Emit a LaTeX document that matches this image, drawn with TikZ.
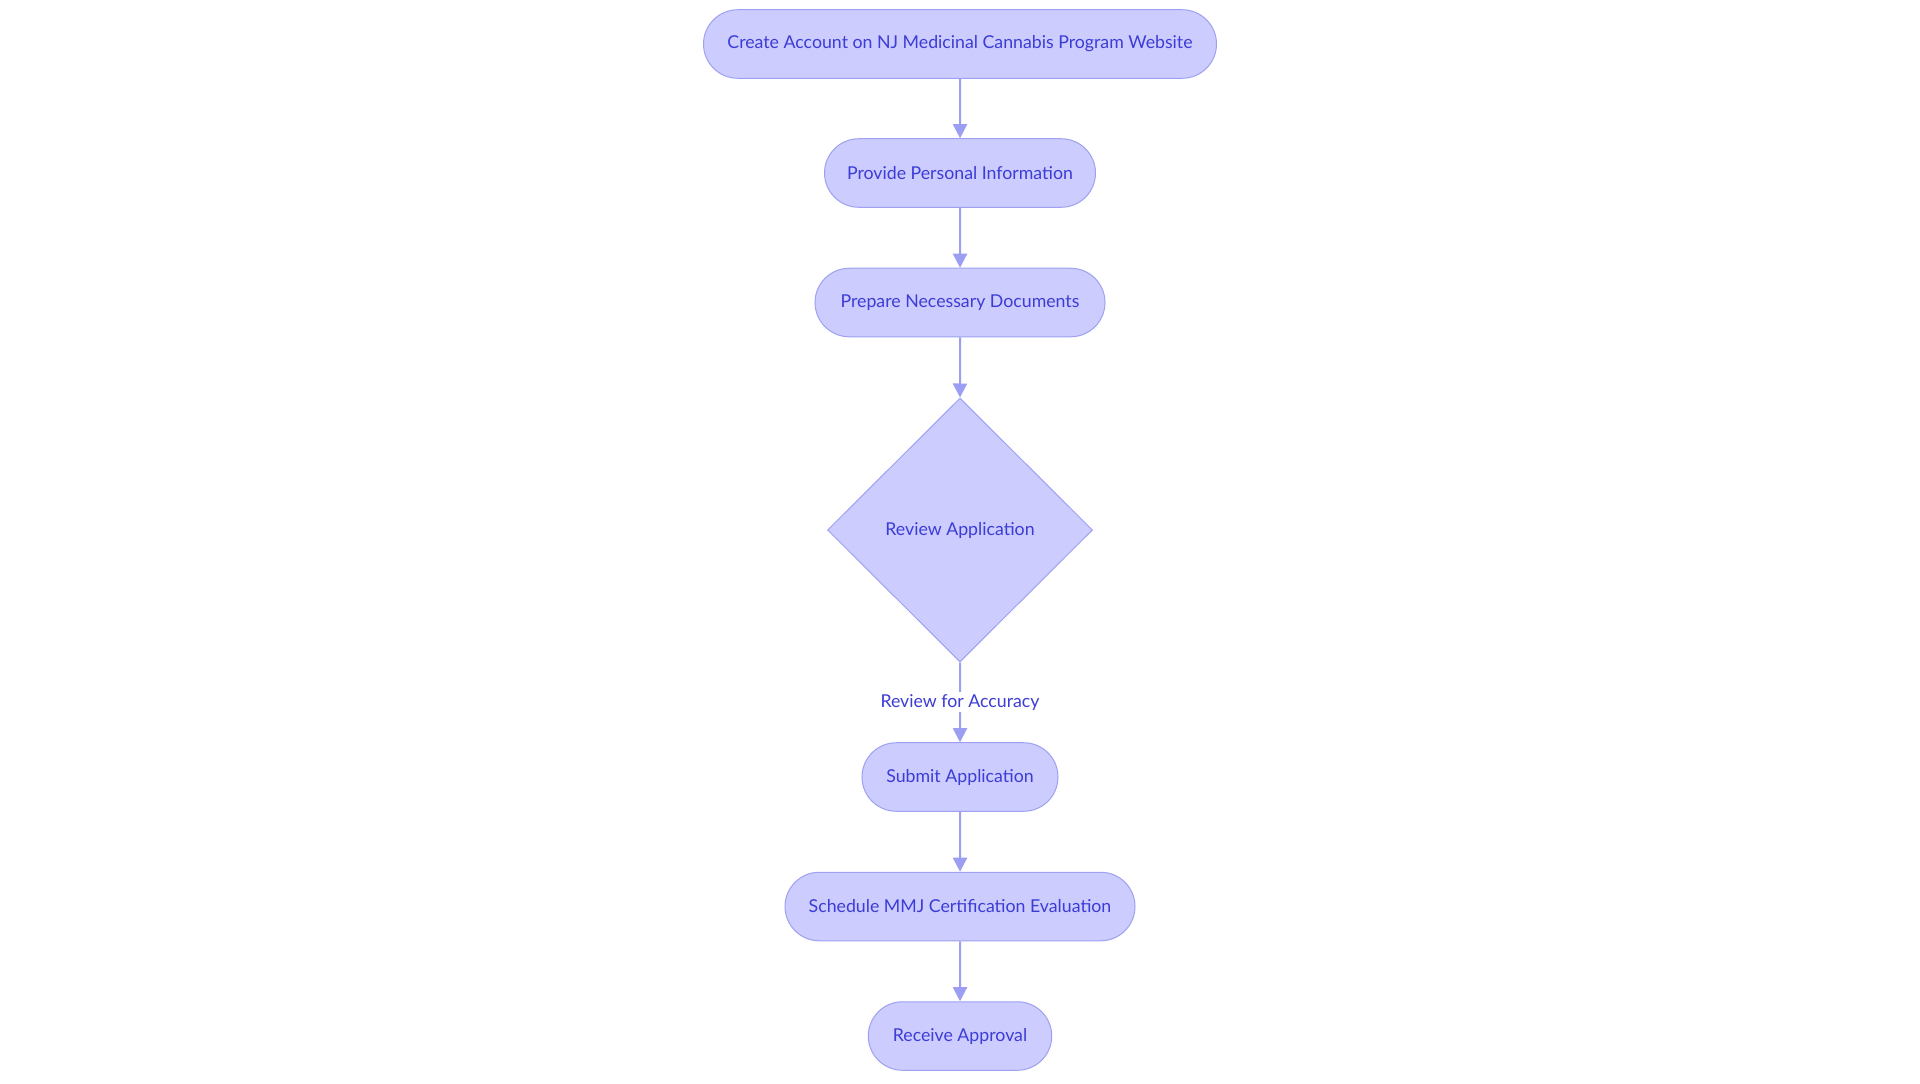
\documentclass[tikz,border=0pt]{standalone}
\usepackage{fontspec}
\setmainfont{Lato}
\usetikzlibrary{shapes.geometric,shapes.misc,arrows.meta}
\definecolor{nodefill}{HTML}{CCCCFF}
\definecolor{nodeline}{HTML}{9EA1F0}
\definecolor{edgeline}{HTML}{9B9EF2}
\definecolor{nodetext}{HTML}{3C3CD6}
\tikzset{
  stadium/.style={rounded rectangle, draw=nodeline, fill=nodefill, line width=0.75pt,
    minimum height=51.4pt, inner sep=0pt, text=nodetext, font=\fontsize{13.3}{15}\selectfont},
  decision/.style={diamond, draw=nodeline, fill=nodefill, line width=0.75pt,
    minimum width=198.75pt, minimum height=198pt, inner sep=0pt, shape aspect=1,
    text=nodetext, font=\fontsize{13.3}{15}\selectfont},
  flow/.style={draw=edgeline, line width=1.5pt, -{Triangle[length=10.5pt,width=10.5pt]}},
  edgelabel/.style={fill=white, text=nodetext, inner sep=1.5pt, font=\fontsize{13.3}{15}\selectfont}
}
\begin{document}
\begin{tikzpicture}[x=0.75pt,y=-0.75pt]
\useasboundingbox[fill=white] (0,0) rectangle (1920,1083);
\node[stadium, minimum width=384.75pt] (n1) at (960,44) {Create Account on NJ Medicinal Cannabis Program Website};
\node[stadium, minimum width=203.25pt] (n2) at (960,173) {Provide Personal Information};
\node[stadium, minimum width=217.5pt] (n3) at (960,302.5) {Prepare Necessary Documents};
\node[decision] (d) at (960,530) {Review Application};
\node[stadium, minimum width=147pt] (n5) at (960,777) {Submit Application};
\node[stadium, minimum width=262.5pt] (n6) at (960,906.5) {Schedule MMJ Certification Evaluation};
\node[stadium, minimum width=137.6pt] (n7) at (960,1036) {Receive Approval};
\draw[flow] (n1) -- (n2);
\draw[flow] (n2) -- (n3);
\draw[flow] (n3) -- (d);
\draw[flow] (d) -- node[edgelabel, pos=0.5] (lbl) {Review for Accuracy} (n5);
\draw[flow] (n5) -- (n6);
\draw[flow] (n6) -- (n7);
\end{tikzpicture}
\end{document}
